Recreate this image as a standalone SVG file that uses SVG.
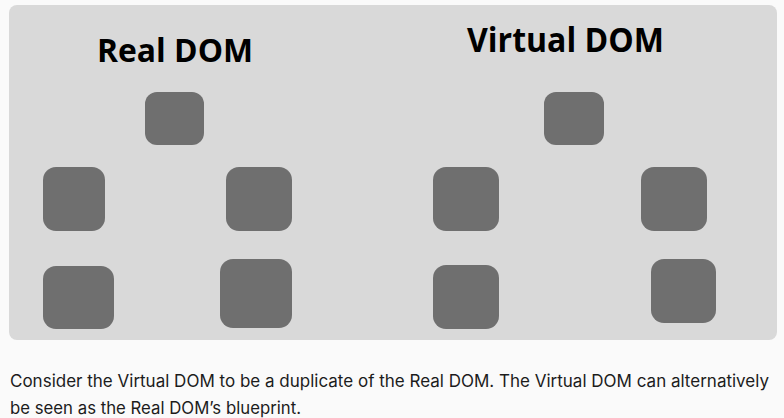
<svg xmlns="http://www.w3.org/2000/svg" width="784" height="418" viewBox="0 0 784 418">
<style>
.node{fill:#6f6f6f;}
.title{font-family:"Open Sans","Liberation Sans",sans-serif;font-weight:700;fill:#000;}
.cap{font-family:"Inter","Liberation Sans",sans-serif;font-size:17px;fill:#1c1c1c;}
</style>
<rect x="0" y="0" width="784" height="418" fill="#fafafa"/>
<rect id="panel" x="9" y="5" width="768" height="335" rx="8" fill="#d9d9d9"/>
<g id="real-title"><text class="title" x="97" y="62" font-size="32" textLength="156" lengthAdjust="spacingAndGlyphs">Real DOM</text></g>
<g id="virtual-title"><text class="title" x="467" y="52" font-size="34" textLength="197" lengthAdjust="spacingAndGlyphs">Virtual DOM</text></g>
<g id="real-root"><rect class="node" x="145" y="92" width="59" height="53" rx="12"/></g>
<g id="real-l2-left"><rect class="node" x="43" y="167" width="62" height="64" rx="13"/></g>
<g id="real-l2-right"><rect class="node" x="226" y="167" width="66" height="64" rx="13"/></g>
<g id="real-l3-left"><rect class="node" x="43" y="266" width="71" height="63" rx="13"/></g>
<g id="real-l3-right"><rect class="node" x="220" y="259" width="72" height="69" rx="13"/></g>
<g id="virtual-root"><rect class="node" x="544" y="92" width="60" height="53" rx="12"/></g>
<g id="virtual-l2-left"><rect class="node" x="433" y="167" width="66" height="64" rx="13"/></g>
<g id="virtual-l2-right"><rect class="node" x="641" y="167" width="66" height="64" rx="13"/></g>
<g id="virtual-l3-left"><rect class="node" x="433" y="265" width="66" height="64" rx="13"/></g>
<g id="virtual-l3-right"><rect class="node" x="651" y="259" width="65" height="64" rx="13"/></g>
<g id="connectors"></g>
<g id="caption">
<text class="cap" x="10" y="387" textLength="759" lengthAdjust="spacingAndGlyphs">Consider the Virtual DOM to be a duplicate of the Real DOM. The Virtual DOM can alternatively</text>
<text class="cap" x="10" y="414" textLength="291" lengthAdjust="spacingAndGlyphs">be seen as the Real DOM’s blueprint.</text>
</g>
</svg>
